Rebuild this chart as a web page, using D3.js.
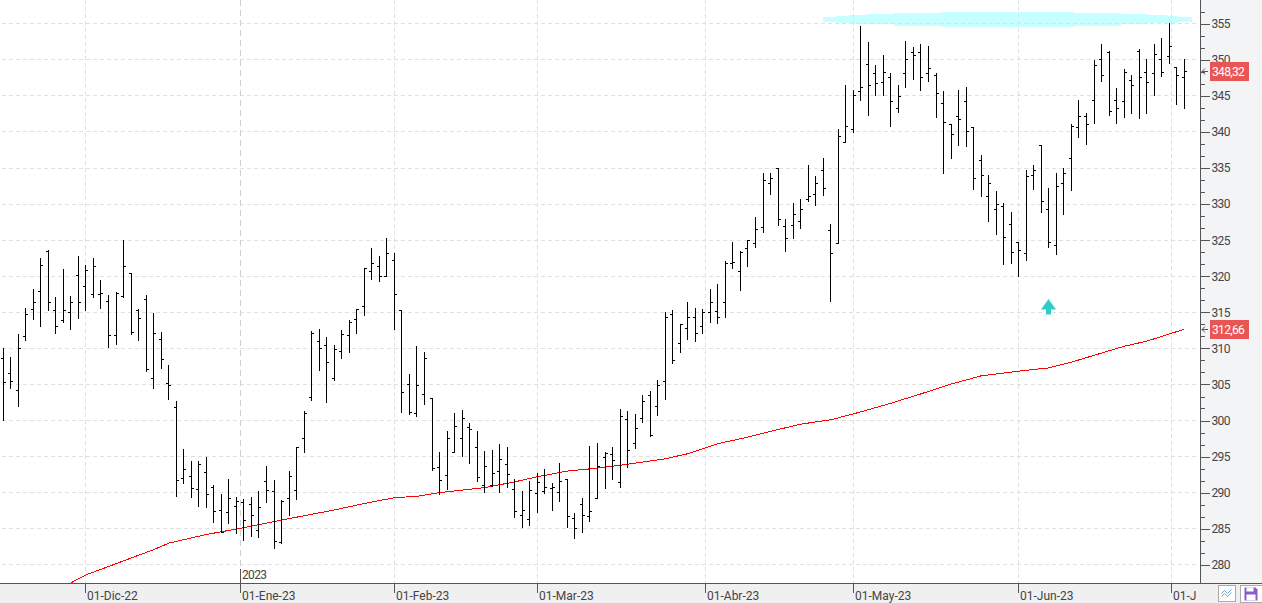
<!DOCTYPE html>
<html>
<head>
<meta charset="utf-8">
<script src="https://cdn.jsdelivr.net/npm/d3@7"></script>
<style>
    html, body { margin: 0; padding: 0; background: #fff; overflow: hidden; }
    svg { display: block; }
    text { font-family: "Roboto", sans-serif; font-size: 12px; fill: #444; }
    .digits { letter-spacing: -0.65px; }
</style>
</head>
<body>
<svg id="chart"></svg>
<script>
// Daily OHLC values, one entry per bar
const opens = [308.6, 306.5, 304.2, 311.7, 315.4, 317.9, 323.5, 315.3, 313.9, 315.0,
    320.1, 318.6, 317.5, 317.5, 316.5, 311.8, 317.2, 320.4, 315.3, 316.8,
    305.8, 311.2, 305.1, 301.8, 291.9, 292.2, 290.4, 292.8, 290.7, 287.5,
    287.2, 288.1, 288.6, 288.3, 284.7, 291.5, 290.1, 283.1, 289.2, 290.3,
    297.5, 303.2, 311.0, 310.4, 305.8, 309.6, 311.8, 314.0, 315.8, 320.7,
    321.3, 320.0, 322.2, 315.3, 305.0, 301.0, 303.6, 303.1, 293.5, 292.4,
    295.6, 297.5, 299.0, 296.3, 291.0, 291.0, 292.9, 293.9, 290.4, 286.9,
    286.3, 289.9, 290.1, 290.6, 290.0, 291.8, 286.4, 288.3, 286.7, 289.2,
    294.9, 295.3, 291.4, 300.1, 296.8, 300.3, 303.5, 301.9, 305.4, 314.7,
    310.7, 312.8, 314.3, 313.1, 315.0, 315.1, 316.4, 321.8, 320.6, 323.8,
    324.6, 326.8, 332.9, 334.9, 326.9, 327.1, 327.6, 330.7, 331.3, 334.7,
    326.4, 324.5, 338.6, 340.3, 345.6, 349.3, 348.1, 346.9, 347.6, 343.3,
    348.1, 351.0, 351.0, 348.1, 347.8, 344.0, 341.1, 342.2, 344.2, 340.6,
    336.1, 331.0, 329.2, 329.7, 327.2, 324.7, 323.1, 334.0, 338.1, 329.2,
    324.3, 332.8, 336.3, 340.6, 342.2, 344.3, 350.0, 351.0, 344.3, 344.2,
    347.2, 351.1, 348.2, 348.1, 350.0, 350.4, 348.9, 347.6];
const highs = [310.0, 308.8, 311.9, 315.6, 318.1, 322.4, 323.6, 317.1, 321.0, 317.2,
    322.8, 321.5, 322.5, 319.4, 317.4, 317.8, 324.9, 320.4, 315.4, 317.4,
    314.9, 312.2, 307.6, 302.6, 296.0, 294.3, 294.3, 294.9, 291.0, 289.7,
    291.8, 289.3, 289.0, 289.3, 290.1, 293.6, 291.7, 288.9, 292.9, 296.3,
    301.3, 312.4, 312.6, 311.5, 310.4, 312.5, 313.9, 315.4, 321.1, 323.8,
    322.8, 325.3, 323.2, 315.3, 306.4, 310.3, 309.4, 303.1, 295.6, 298.5,
    301.0, 301.4, 299.6, 298.5, 295.7, 295.8, 296.7, 296.3, 291.8, 290.1,
    291.5, 292.6, 293.2, 291.3, 294.0, 291.8, 287.1, 289.2, 296.4, 296.8,
    295.6, 296.3, 301.5, 301.2, 300.8, 303.5, 304.0, 305.6, 315.0, 315.3,
    313.3, 316.4, 315.6, 315.4, 318.1, 318.9, 322.1, 324.7, 323.5, 325.0,
    328.1, 334.2, 334.2, 334.9, 327.9, 330.1, 330.6, 335.3, 333.9, 336.3,
    327.2, 340.3, 346.4, 345.7, 354.6, 352.4, 349.2, 350.6, 348.1, 346.5,
    352.5, 351.7, 352.1, 351.8, 348.1, 345.6, 341.1, 345.7, 346.1, 340.6,
    336.7, 334.0, 331.8, 330.1, 328.8, 324.7, 334.6, 335.3, 338.1, 332.1,
    334.2, 335.0, 341.1, 344.4, 342.6, 349.9, 352.1, 351.1, 346.0, 348.6,
    347.9, 351.4, 350.1, 352.1, 352.9, 355.0, 348.9, 350.0];
const lows = [300.0, 304.5, 302.0, 311.1, 314.0, 313.0, 315.2, 312.0, 313.6, 312.6,
    314.1, 315.2, 317.0, 315.5, 310.1, 310.6, 317.0, 311.9, 311.1, 306.8,
    304.5, 307.2, 302.9, 289.4, 291.3, 289.3, 288.1, 288.0, 285.9, 284.5,
    285.7, 284.4, 283.4, 283.9, 283.8, 288.6, 282.2, 282.9, 286.9, 289.1,
    295.5, 302.8, 307.0, 302.5, 305.5, 308.6, 309.5, 312.0, 314.5, 319.5,
    319.3, 320.0, 312.6, 301.1, 300.8, 300.6, 302.2, 293.1, 289.7, 290.4,
    295.6, 295.0, 294.1, 291.5, 290.0, 290.8, 290.0, 290.7, 286.5, 285.2,
    285.5, 287.2, 289.9, 287.5, 288.8, 285.2, 283.6, 284.5, 286.0, 289.2,
    290.6, 291.8, 290.7, 293.5, 296.1, 299.7, 297.8, 300.7, 302.9, 307.9,
    309.4, 311.3, 310.9, 312.0, 313.6, 313.4, 314.3, 321.1, 318.0, 321.3,
    324.0, 326.1, 331.3, 327.0, 323.4, 325.2, 326.6, 330.3, 329.8, 331.2,
    316.5, 324.5, 338.6, 339.9, 344.4, 342.3, 345.1, 345.1, 340.8, 342.7,
    346.2, 347.3, 345.8, 347.0, 342.0, 334.3, 336.3, 338.1, 338.0, 332.0,
    331.1, 327.6, 325.8, 321.6, 321.8, 320.0, 322.2, 332.0, 328.9, 324.0,
    323.0, 328.6, 331.9, 339.3, 338.3, 341.2, 347.0, 342.3, 341.2, 342.0,
    342.5, 341.9, 342.6, 345.1, 347.7, 349.5, 343.8, 343.2];
const closes = [305.3, 305.4, 310.0, 314.7, 316.3, 321.5, 316.3, 313.1, 315.3, 316.4,
    316.4, 320.8, 321.4, 317.6, 311.8, 317.6, 321.4, 312.2, 314.2, 307.1,
    312.1, 308.5, 304.9, 291.7, 293.2, 290.6, 293.9, 289.7, 287.4, 284.5,
    289.2, 288.8, 286.1, 286.8, 287.9, 290.3, 283.2, 288.8, 292.2, 296.3,
    301.0, 312.1, 310.0, 308.1, 309.9, 311.9, 313.6, 315.4, 321.1, 321.8,
    320.0, 323.2, 317.5, 303.9, 301.1, 304.9, 308.6, 293.3, 291.7, 297.5,
    299.2, 300.3, 298.8, 292.1, 293.6, 292.6, 294.6, 292.5, 287.4, 287.5,
    290.3, 291.4, 290.7, 290.7, 291.5, 286.7, 285.1, 286.9, 287.4, 293.6,
    295.4, 294.4, 300.6, 295.8, 298.9, 302.6, 297.9, 304.9, 314.3, 308.3,
    313.3, 314.3, 312.1, 315.0, 316.3, 314.3, 321.8, 321.9, 323.3, 324.9,
    326.5, 333.3, 333.6, 327.9, 325.3, 328.6, 329.3, 331.1, 332.9, 332.1,
    323.2, 339.4, 340.8, 345.1, 346.1, 346.4, 346.7, 348.2, 344.2, 344.9,
    350.1, 350.6, 347.5, 348.8, 345.3, 341.3, 339.6, 341.8, 340.0, 333.6,
    334.0, 332.8, 330.0, 325.4, 323.3, 323.6, 333.9, 334.6, 330.4, 324.7,
    332.5, 334.2, 340.8, 342.2, 341.1, 349.2, 347.9, 342.8, 343.3, 348.3,
    346.4, 347.6, 346.9, 350.8, 348.3, 351.9, 347.8, 348.32];

// Moving average, read at these bars
const maBars = [9, 11, 20, 22, 27, 32, 36, 40, 44, 48, 52, 55, 58, 64, 68, 71, 75, 78, 82, 88,
    91, 93, 95, 99, 102, 106, 110, 114, 118, 122, 126, 130, 135, 139, 142, 146, 149, 152, 155, 157];
const maValues = [277.5, 278.6, 282.1, 283.0, 284.2, 285.15, 286.0, 286.8, 287.6, 288.5,
    289.3, 289.5, 290.0, 290.7, 291.5, 292.2, 293.0, 293.3, 293.8, 294.7,
    295.4, 296.1, 296.8, 297.7, 298.5, 299.5, 300.1, 301.2, 302.4, 303.7,
    305.05, 306.2, 306.85, 307.3, 308.1, 309.35, 310.3, 311.0, 312.0, 312.66];

// Month ticks: label and the (fractional) bar they fall on
const monthLabels = ["01-Dic-22", "01-Ene-23", "01-Feb-23", "01-Mar-23", "01-Abr-23", "01-May-23", "01-Jun-23", "01-J"];
const monthBars = [11, 31.54, 52, 71, 93.3, 113, 135, 155.3];
const yearLabel = "2023";
const yearBar = 31.54;

const priceTicks = [280, 285, 290, 295, 300, 305, 310, 315, 320, 325, 330, 335, 340, 345, 350, 355];
const minorTicks = [281.67, 283.33, 286.67, 288.33, 291.67, 293.33, 296.67, 298.33, 301.67, 303.33,
    306.67, 308.33, 311.67, 313.33, 316.67, 318.33, 321.67, 323.33, 326.67, 328.33, 331.67, 333.33,
    336.67, 338.33, 341.67, 343.33, 346.67, 348.33, 351.67, 353.33, 356.67];

// Hand drawn highlight along the highs: bar, top price, bottom price
const markBars = [109, 110.7, 112.4, 114.8, 118.4, 124.7, 142.3, 148.6, 152.2, 154.7, 156.2, 158];
const markTops = [355.9, 356.13, 356.2, 356.3, 356.5, 356.63, 356.5, 356.3, 356.2, 356.08, 355.9, 355.9];
const markBottoms = [355.25, 355.07, 355.0, 355.0, 354.74, 354.55, 354.74, 355.0, 355.15, 355.16, 355.25, 355.25];

const arrowBar = 139;
const arrowPrice = 314.7;

// Last value flags
const flagValues = [348.32, 312.66];
const flagLabels = ["348,32", "312,66"];

// Chart dimensions
const width = 1262;
const height = 603;
const plotRight = 1200;
const plotBottom = 583;

const svg = d3.select("#chart")
    .attr("width", width)
    .attr("height", height);

// Scales
const xScale = d3.scaleLinear().domain([0, 157]).range([3.2, 1184.3]);
const yScale = d3.scaleLinear().domain([280, 355]).range([564.8, 23.8]);

// snap to the pixel grid so the thin lines stay sharp
const px = v => Math.floor(v) + 0.5;
const xPx = i => px(xScale(i));
const yPx = v => px(yScale(v));

// Panels
svg.append("rect").attr("x", plotRight).attr("y", 0)
    .attr("width", width - plotRight).attr("height", plotBottom).attr("fill", "#f3f4f6");
svg.append("rect").attr("x", 0).attr("y", plotBottom)
    .attr("width", width).attr("height", height - plotBottom).attr("fill", "#f0f0f0");

const plot = svg.append("g");

// Highlight
const markArea = d3.area()
    .x(d => xScale(d))
    .y0((d, i) => yScale(markBottoms[i]))
    .y1((d, i) => yScale(markTops[i]))
    .curve(d3.curveStepAfter);
plot.append("path")
    .datum(markBars)
    .attr("d", markArea)
    .attr("fill", "#c6ffff")
    .attr("shape-rendering", "crispEdges");

// Grid
plot.selectAll(".hgrid")
    .data(priceTicks)
    .enter()
    .append("line")
    .attr("class", "hgrid")
    .attr("x1", 2)
    .attr("x2", plotRight - 2)
    .attr("y1", d => yPx(d))
    .attr("y2", d => yPx(d))
    .attr("stroke", "#e0e0e0")
    .attr("stroke-dasharray", "4,3")
    .attr("shape-rendering", "crispEdges");

plot.selectAll(".vgrid")
    .data(monthBars)
    .enter()
    .append("line")
    .attr("class", "vgrid")
    .attr("x1", d => xPx(d))
    .attr("x2", d => xPx(d))
    .attr("y1", 0)
    .attr("y2", plotBottom)
    .attr("stroke", d => d === yearBar ? "#cfcfcf" : "#e0e0e0")
    .attr("stroke-dasharray", d => d === yearBar ? "6,4" : "4,3")
    .attr("shape-rendering", "crispEdges");

// Moving average
const maLine = d3.line()
    .x((d, i) => xScale(maBars[i]))
    .y(d => yScale(d));
plot.append("path")
    .datum(maValues)
    .attr("d", maLine)
    .attr("fill", "none")
    .attr("stroke", "#ff0000")
    .attr("stroke-width", 1)
    .attr("shape-rendering", "crispEdges");

// OHLC bars
const bars = plot.selectAll(".bar")
    .data(opens.map((d, i) => i))
    .enter()
    .append("g")
    .attr("class", "bar")
    .attr("stroke", "#000")
    .attr("shape-rendering", "crispEdges");
bars.append("line")
    .attr("x1", i => xPx(i))
    .attr("x2", i => xPx(i))
    .attr("y1", i => Math.floor(yScale(highs[i])))
    .attr("y2", i => Math.floor(yScale(lows[i])) + 1);
bars.append("line")
    .attr("x1", i => xPx(i) - 2.5)
    .attr("x2", i => xPx(i))
    .attr("y1", i => yPx(opens[i]))
    .attr("y2", i => yPx(opens[i]));
bars.append("line")
    .attr("x1", i => xPx(i))
    .attr("x2", i => xPx(i) + 2.5)
    .attr("y1", i => yPx(closes[i]))
    .attr("y2", i => yPx(closes[i]));

// Up arrow
plot.append("path")
    .attr("transform", `translate(${xPx(arrowBar)}, ${yScale(arrowPrice)})`)
    .attr("d", "M0,-15.5 L7.5,-5 L2.5,-5 L2.5,0 L-2.5,0 L-2.5,-5 L-7.5,-5 Z")
    .attr("fill", "#33cccc");

// Price axis
const yAxis = d3.axisRight(yScale)
    .tickValues(priceTicks)
    .tickSize(9)
    .tickPadding(2)
    .tickFormat(d3.format("d"));
svg.append("g")
    .attr("id", "y-axis")
    .attr("transform", `translate(${plotRight + 0.5}, 0)`)
    .call(yAxis)
    .call(g => g.select(".domain").remove())
    .call(g => g.selectAll("line").attr("stroke", "#555").attr("shape-rendering", "crispEdges"))
    .call(g => g.selectAll("text").attr("class", "digits").attr("fill", null));

const yMinor = d3.axisRight(yScale)
    .tickValues(minorTicks)
    .tickSize(4)
    .tickFormat("");
svg.append("g")
    .attr("transform", `translate(${plotRight + 0.5}, 0)`)
    .call(yMinor)
    .call(g => g.select(".domain").remove())
    .call(g => g.selectAll("line").attr("stroke", "#555").attr("shape-rendering", "crispEdges"));

// Axis borders
svg.append("line").attr("x1", plotRight + 0.5).attr("x2", plotRight + 0.5)
    .attr("y1", 0).attr("y2", plotBottom)
    .attr("stroke", "#555").attr("shape-rendering", "crispEdges");
svg.append("line").attr("x1", 0).attr("x2", width)
    .attr("y1", plotBottom + 0.5).attr("y2", plotBottom + 0.5)
    .attr("stroke", "#555").attr("shape-rendering", "crispEdges");

// Month axis
const months = svg.selectAll(".month")
    .data(monthBars)
    .enter()
    .append("g")
    .attr("class", "month")
    .attr("transform", d => `translate(${xPx(d)}, ${plotBottom})`);
months.append("line")
    .attr("y1", 0)
    .attr("y2", 10)
    .attr("stroke", "#555")
    .attr("shape-rendering", "crispEdges");
months.append("text")
    .attr("x", 1.5)
    .attr("y", 16.5)
    .text((d, i) => monthLabels[i]);

// Year mark above the axis
svg.append("line")
    .attr("x1", xPx(yearBar)).attr("x2", xPx(yearBar))
    .attr("y1", plotBottom - 14).attr("y2", plotBottom)
    .attr("stroke", "#555").attr("shape-rendering", "crispEdges");
svg.append("text")
    .attr("class", "digits")
    .attr("x", xPx(yearBar) + 1.5)
    .attr("y", plotBottom - 4)
    .text(yearLabel);

// Last value flags
const flags = svg.selectAll(".flag")
    .data(flagValues)
    .enter()
    .append("g")
    .attr("class", "flag")
    .attr("transform", d => `translate(${plotRight}, ${yPx(d)})`);
flags.append("rect")
    .attr("x", 10)
    .attr("y", -9.5)
    .attr("width", 39)
    .attr("height", 19)
    .attr("fill", "#e85555");
flags.append("text")
    .attr("class", "digits")
    .attr("x", 12)
    .attr("y", 4.5)
    .style("fill", "#fff")
    .text((d, i) => flagLabels[i]);
flags.append("path")
    .attr("d", "M8,0 H2 M5,-3 L2,0 L5,3")
    .attr("fill", "none")
    .attr("stroke", "#555");

// Toolbar buttons
const btn1 = svg.append("g").attr("transform", "translate(1218.5, 585.5)");
btn1.append("rect").attr("width", 17).attr("height", 16).attr("fill", "#fff").attr("stroke", "#aaa");
btn1.append("path").attr("d", "M3,8 L6,5 L9,8 L13,4").attr("fill", "none").attr("stroke", "#6aa5d8");
btn1.append("path").attr("d", "M3,11 L6,8 L9,11 L13,7").attr("fill", "none").attr("stroke", "#6aa5d8");

const btn2 = svg.append("g").attr("transform", "translate(1240.5, 585.5)");
btn2.append("rect").attr("width", 22).attr("height", 17).attr("fill", "#fff").attr("stroke", "#aaa");
btn2.append("path").attr("d", "M4,2 H15 L17,4 V15 H4 Z").attr("fill", "#8a5cc4");
btn2.append("rect").attr("x", 6).attr("y", 2).attr("width", 7).attr("height", 4).attr("fill", "#fff");
btn2.append("rect").attr("x", 6).attr("y", 9).attr("width", 9).attr("height", 6).attr("fill", "#fff");
</script>
</body>
</html>
